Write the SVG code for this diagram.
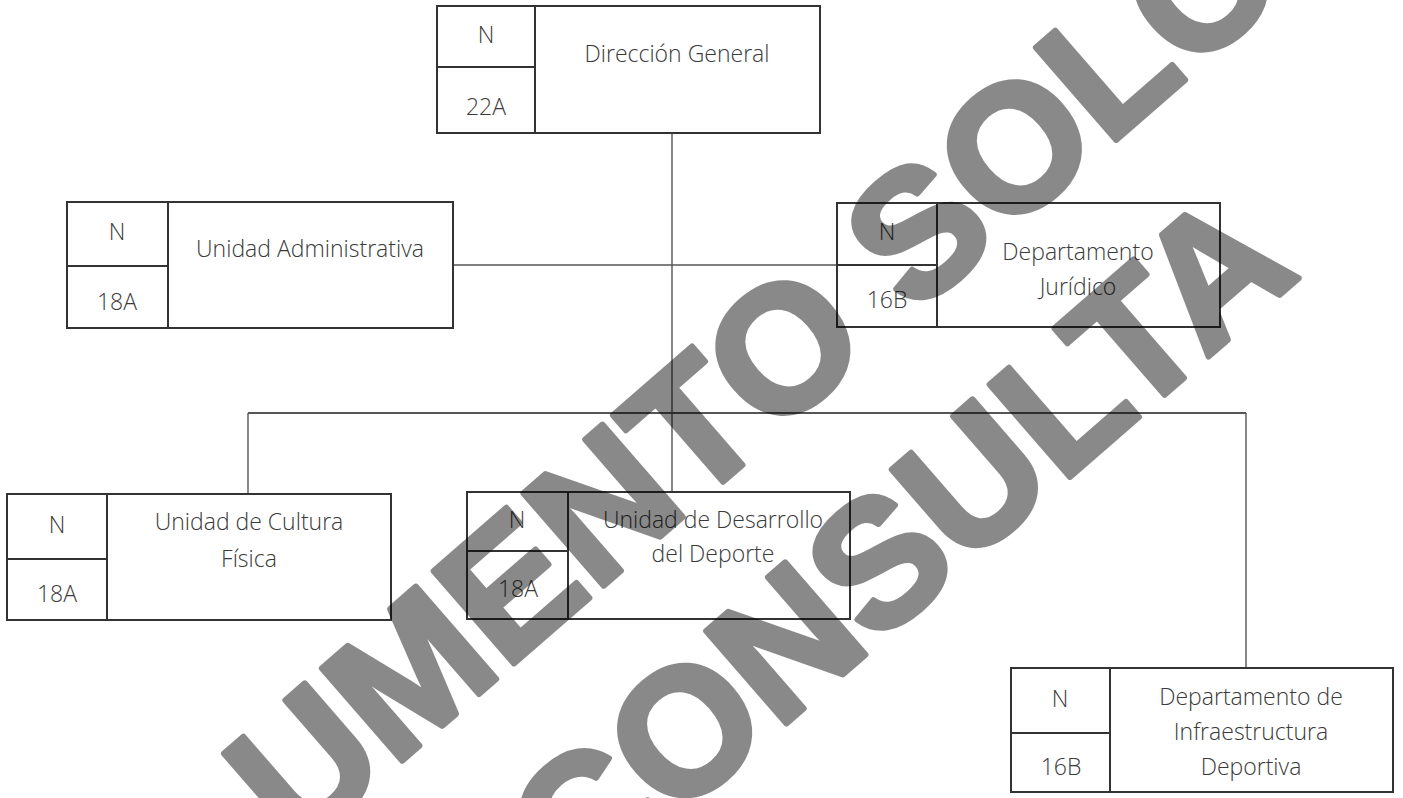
<svg xmlns="http://www.w3.org/2000/svg" width="1403" height="798" viewBox="0 0 1403 798">
<style>
.box{fill:#fff;stroke:#333;stroke-width:2}
.div{stroke:#333;stroke-width:2;fill:none}
.con{stroke:#555;stroke-width:1.4;fill:none}
.t{font-family:"Open Sans","Noto Sans","Liberation Sans",sans-serif;font-weight:300;font-size:23px;fill:#3a3a3a;text-anchor:middle}
.wm{font-family:"Liberation Sans",Arial,sans-serif;font-weight:bold;font-size:178px;fill:#000;stroke:#000;stroke-width:6;stroke-linejoin:round}
</style>
<rect width="1403" height="798" fill="#fff"/>
<g id="connectors">
<line class="con" x1="672" y1="133" x2="672" y2="492"/>
<line class="con" x1="453" y1="265" x2="837" y2="265"/>
<line class="con" x1="248" y1="413" x2="1246" y2="413" style="stroke-width:2"/>
<line class="con" x1="248" y1="413" x2="248" y2="494"/>
<line class="con" x1="1246" y1="413" x2="1246" y2="668"/>
</g>
<g id="node-direccion">
<rect class="box" x="437" y="6" width="383" height="127"/>
<path class="div" d="M535 6V133M437 67H535"/>
<text class="t" x="486" y="43">N</text>
<text class="t" x="486" y="115">22A</text>
<text class="t" x="677" y="62">Dirección General</text>
</g>
<g id="node-administrativa">
<rect class="box" x="67" y="202" width="386" height="126"/>
<path class="div" d="M168 202V328M67 266H168"/>
<text class="t" x="117" y="240">N</text>
<text class="t" x="117" y="310">18A</text>
<text class="t" x="310" y="257">Unidad Administrativa</text>
</g>
<g id="node-juridico">
<rect class="box" x="837" y="203" width="383" height="124"/>
<path class="div" d="M937 203V327M837 265H937"/>
<text class="t" x="887" y="240">N</text>
<text class="t" x="887" y="308">16B</text>
<text class="t" x="1078" y="260">Departamento</text>
<text class="t" x="1078" y="295">Jurídico</text>
</g>
<g id="node-cultura">
<rect class="box" x="7" y="494" width="384" height="126"/>
<path class="div" d="M107 494V620M7 559H107"/>
<text class="t" x="57" y="533">N</text>
<text class="t" x="57" y="602">18A</text>
<text class="t" x="249" y="530">Unidad de Cultura</text>
<text class="t" x="249" y="567">Física</text>
</g>
<g id="node-desarrollo">
<rect class="box" x="467" y="492" width="383" height="127"/>
<path class="div" d="M568 492V619M467 551H568"/>
<text class="t" x="517" y="528">N</text>
<text class="t" x="518" y="597">18A</text>
<text class="t" x="713" y="528">Unidad de Desarrollo</text>
<text class="t" x="713" y="562">del Deporte</text>
</g>
<g id="node-infraestructura">
<rect class="box" x="1011" y="668" width="382" height="124"/>
<path class="div" d="M1110 668V792M1011 733H1110"/>
<text class="t" x="1060" y="707">N</text>
<text class="t" x="1061" y="775">16B</text>
<text class="t" x="1251" y="705">Departamento de</text>
<text class="t" x="1251" y="740">Infraestructura</text>
<text class="t" x="1251" y="775">Deportiva</text>
</g>
<g id="watermark" transform="rotate(-41)" opacity="0.46">
<text class="wm" x="-336" y="838">UMENTO SOLO</text>
<text class="wm" x="-160" y="1062">CONSULTA</text>
</g>
</svg>
